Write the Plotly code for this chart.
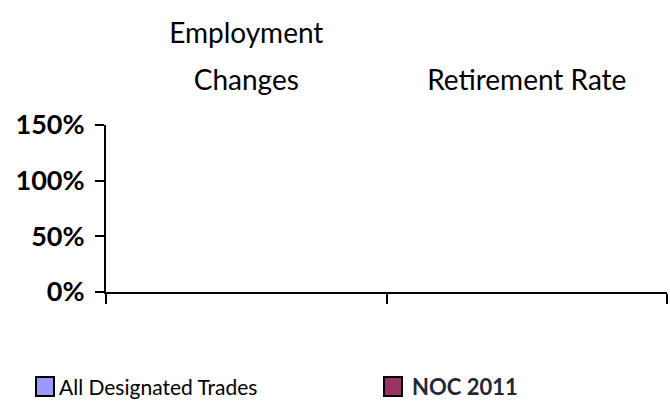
import plotly.graph_objects as go

categories = ["Employment Changes", "Retirement Rate"]
category_labels = ["Employment<br>Changes", "Retirement Rate"]
series_names = ["All Designated Trades", "NOC 2011"]
series_colors = ["#9999FF", "#993366"]
all_designated = [None, None]
noc_2011 = [None, None]
y_tickvals = [0, 0.5, 1.0, 1.5]
y_ticktext = ["0%", "50%", "100%", "150%"]

W, H = 670, 408
L, R, T, B = 106, 667, 125, 292
FONT = "Lato, Roboto, sans-serif"

def px(x):
    return (x - L) / (R - L)

def py(y):
    return (B - y) / (B - T)

fig = go.Figure()
for name, color, vals in zip(series_names, series_colors, [all_designated, noc_2011]):
    fig.add_trace(go.Bar(x=categories, y=vals, name=name,
                         marker=dict(color=color, line=dict(color="black", width=1.5)),
                         showlegend=False, xaxis="x", yaxis="y"))
# invisible trace carrying the top category labels
fig.add_trace(go.Scatter(x=categories, y=[None, None], xaxis="x2", yaxis="y",
                         showlegend=False, hoverinfo="skip"))

top_ticktext = ["<span style='font-size:28px'>" + s.replace("<br>", "</span><br><span style='font-size:28px'>") + "</span>"
                for s in category_labels]

fig.update_layout(
    width=W, height=H,
    margin=dict(l=L, r=W - R, t=T, b=H - B, pad=0),
    paper_bgcolor="white", plot_bgcolor="white",
    showlegend=False,
    bargap=0.4,
    xaxis=dict(type="category", categoryarray=categories, range=[-0.5, 1.5],
               showline=True, linecolor="black", linewidth=2,
               ticks="outside", tickson="boundaries", ticklen=10, tickwidth=2, tickcolor="black",
               showticklabels=False, showgrid=False, zeroline=False),
    xaxis2=dict(type="category", categoryarray=categories, range=[-0.5, 1.5], overlaying="x", side="top",
                anchor="y", showline=False, ticks="outside", ticklen=20, tickcolor="rgba(0,0,0,0)",
                tickvals=categories, ticktext=top_ticktext,
                tickfont=dict(family=FONT, size=36, color="black"), showgrid=False, zeroline=False),
    yaxis=dict(range=[0, 1.5], tickvals=y_tickvals, ticktext=y_ticktext,
               showline=True, linecolor="black", linewidth=2,
               ticks="outside", ticklen=9, tickwidth=2, tickcolor="black", ticklabelstandoff=5,
               tickfont=dict(family=FONT, size=27, color="black", weight="bold"),
               showgrid=False, zeroline=False),
)

# legend drawn by hand so each entry keeps its own font
legend_items = [
    dict(x0=36, x1=54, tx=57, font=dict(family=FONT, size=21, color="black"),
         text=series_names[0], color=series_colors[0]),
    dict(x0=384, x1=402, tx=410, font=dict(family=FONT, size=22, color="#262637", weight="bold"),
         text=series_names[1], color=series_colors[1]),
]
ly0, ly1 = 377, 396
for it in legend_items:
    fig.add_shape(type="rect", xref="paper", yref="paper", x0=px(it["x0"]), x1=px(it["x1"]),
                  y0=py(ly1), y1=py(ly0), fillcolor=it["color"], line=dict(color="black", width=2))
    fig.add_annotation(xref="paper", yref="paper", x=px(it["tx"]), y=py((ly0 + ly1) / 2),
                       xanchor="left", yanchor="middle", text=it["text"], showarrow=False, font=it["font"])

fig.write_html("out.html", config={"displayModeBar": False},
               post_script="document.body.style.margin='0';document.body.style.overflow='hidden';")
